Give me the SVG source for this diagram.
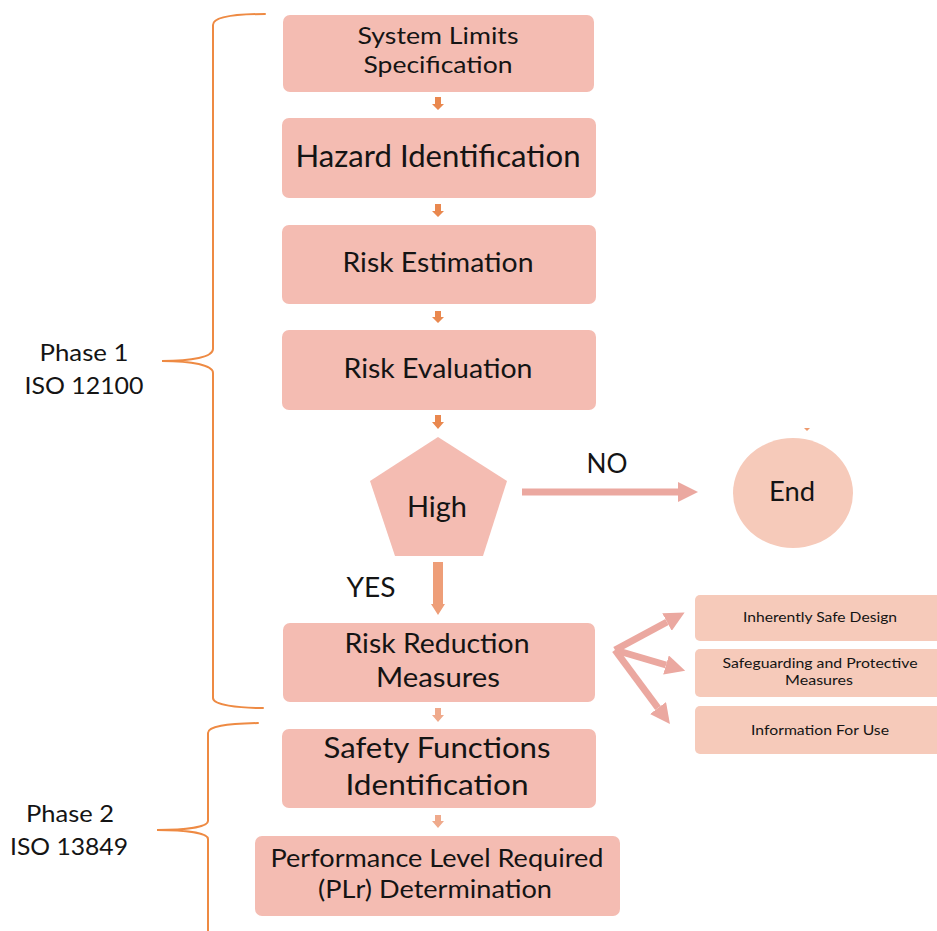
<svg xmlns="http://www.w3.org/2000/svg" width="937" height="931" viewBox="0 0 937 931">
  <style>
    .box { fill: #F4BCB2; }
    .side { fill: #F6CABA; }
    .t { font-family: Lato, "Open Sans", "Liberation Sans", sans-serif; fill: #141414; text-anchor: middle; }
    .brace { fill: none; stroke: #EE8A43; stroke-width: 2; stroke-linecap: round; }
    .step { fill: #E9884F; }
    .step2 { fill: #EFAA8C; }
    .pink { stroke: #EBA8A0; stroke-width: 7; fill: none; }
    .pinkhead { fill: #EBA8A0; }
  </style>
  <defs>
    <marker id="ph" markerUnits="userSpaceOnUse" markerWidth="20" markerHeight="20" refX="0" refY="10" orient="auto" viewBox="0 0 20 20">
      <path d="M0,0 L20,10 L0,20 z" class="pinkhead"/>
    </marker>
  </defs>

  <!-- phase braces and labels -->
  <g id="phase1">
    <path class="brace" d="M265,14 C232,14 213,17 213,25 L213,349 C213,357 192,361 162,361 C192,361 213,365 213,373 L213,698 C213,705 238,708 263,708"/>
    <text class="t" x="84" y="361" font-size="24" textLength="89" lengthAdjust="spacingAndGlyphs">Phase 1</text>
    <text class="t" x="84" y="394" font-size="24" textLength="119" lengthAdjust="spacingAndGlyphs">ISO 12100</text>
  </g>
  <g id="phase2">
    <path class="brace" d="M258,723 C226,724 208,726 208,733 L208,821 C208,827 186,830 157,830 C186,830 208,833 208,839 L208,935"/>
    <text class="t" x="70" y="822" font-size="24" textLength="88" lengthAdjust="spacingAndGlyphs">Phase 2</text>
    <text class="t" x="69" y="855" font-size="24" textLength="118" lengthAdjust="spacingAndGlyphs">ISO 13849</text>
  </g>

  <!-- process steps -->
  <g id="system-limits">
    <rect class="box" x="283" y="15" width="311" height="77" rx="7"/>
    <text class="t" x="438" y="44" font-size="23" textLength="161" lengthAdjust="spacingAndGlyphs">System Limits</text>
    <text class="t" x="438" y="73" font-size="23" textLength="149" lengthAdjust="spacingAndGlyphs">Specification</text>
  </g>
  <g id="hazard-identification">
    <rect class="box" x="282" y="118" width="314" height="80" rx="7"/>
    <text class="t" x="438" y="167" font-size="30" textLength="285" lengthAdjust="spacingAndGlyphs">Hazard Identification</text>
  </g>
  <g id="risk-estimation">
    <rect class="box" x="282" y="225" width="314" height="79" rx="7"/>
    <text class="t" x="438" y="272" font-size="27" textLength="191" lengthAdjust="spacingAndGlyphs">Risk Estimation</text>
  </g>
  <g id="risk-evaluation">
    <rect class="box" x="282" y="330" width="314" height="80" rx="7"/>
    <text class="t" x="438" y="378" font-size="27" textLength="189" lengthAdjust="spacingAndGlyphs">Risk Evaluation</text>
  </g>
  <g id="high">
    <polygon class="box" points="438,437 507,481 483,556 395,556 370,481"/>
    <text class="t" x="437" y="517" font-size="28" textLength="60" lengthAdjust="spacingAndGlyphs">High</text>
  </g>
  <g id="end">
    <ellipse class="side" cx="793" cy="493" rx="60" ry="55"/>
    <path d="M804,428 L810,428 L807,431 z" fill="#EE9A6E"/>
    <text class="t" x="792" y="501" font-size="26" textLength="46" lengthAdjust="spacingAndGlyphs">End</text>
  </g>
  <g id="risk-reduction">
    <rect class="box" x="283" y="623" width="312" height="79" rx="7"/>
    <text class="t" x="437" y="653" font-size="26" textLength="185" lengthAdjust="spacingAndGlyphs">Risk Reduction</text>
    <text class="t" x="438" y="687" font-size="26" textLength="124" lengthAdjust="spacingAndGlyphs">Measures</text>
  </g>
  <g id="inherently-safe">
    <rect class="side" x="695" y="595" width="250" height="46" rx="5"/>
    <text class="t" x="820" y="622" font-size="14" textLength="154" lengthAdjust="spacingAndGlyphs">Inherently Safe Design</text>
  </g>
  <g id="safeguarding">
    <rect class="side" x="695" y="649" width="250" height="48" rx="5"/>
    <text class="t" x="820" y="668" font-size="13.5" textLength="195" lengthAdjust="spacingAndGlyphs">Safeguarding and Protective</text>
    <text class="t" x="819" y="685" font-size="13.5" textLength="68" lengthAdjust="spacingAndGlyphs">Measures</text>
  </g>
  <g id="information-for-use">
    <rect class="side" x="695" y="706" width="250" height="48" rx="5"/>
    <text class="t" x="820" y="735" font-size="14" textLength="138" lengthAdjust="spacingAndGlyphs">Information For Use</text>
  </g>
  <g id="safety-functions">
    <rect class="box" x="282" y="729" width="314" height="79" rx="7"/>
    <text class="t" x="437" y="758" font-size="28" textLength="227" lengthAdjust="spacingAndGlyphs">Safety Functions</text>
    <text class="t" x="437" y="795" font-size="28" textLength="183" lengthAdjust="spacingAndGlyphs">Identification</text>
  </g>
  <g id="performance-level">
    <rect class="box" x="255" y="836" width="365" height="80" rx="7"/>
    <text class="t" x="437" y="867" font-size="25" textLength="333" lengthAdjust="spacingAndGlyphs">Performance Level Required</text>
    <text class="t" x="435" y="898" font-size="25" textLength="234" lengthAdjust="spacingAndGlyphs">(PLr) Determination</text>
  </g>

  <!-- connectors -->
  <g id="connectors">
    <polygon class="step" points="435,97 441,97 441,104 444,104 438,110 432,104 435,104"/>
    <polygon class="step" points="435,204 441,204 441,211 444,211 438,217 432,211 435,211"/>
    <polygon class="step" points="435,311 441,311 441,317 444,317 438,323 432,317 435,317"/>
    <polygon class="step" points="435,415 441,415 441,422 444,422 438,429 432,422 435,422"/>
    <polygon class="step2" points="435,708 441,708 441,715 444,715 438,722 432,715 435,715"/>
    <polygon class="step2" points="435,815 441,815 441,821 444,821 438,828 432,821 435,821"/>
    <!-- YES branch -->
    <polygon fill="#EE9E78" points="433,562 443,562 443,604 445,604 438,615 431,604 433,604"/>
    <text class="t" x="371" y="597" font-size="26" textLength="49" lengthAdjust="spacingAndGlyphs">YES</text>
    <!-- NO branch -->
    <line class="pink" x1="522" y1="492" x2="678" y2="492" marker-end="url(#ph)"/>
    <text class="t" x="607" y="473" font-size="26" textLength="41" lengthAdjust="spacingAndGlyphs">NO</text>
    <!-- risk reduction options -->
    <line class="pink" x1="615" y1="650" x2="667" y2="622" marker-end="url(#ph)"/>
    <line class="pink" x1="615" y1="650" x2="666" y2="665" marker-end="url(#ph)"/>
    <line class="pink" x1="615" y1="650" x2="658" y2="708" marker-end="url(#ph)"/>
  </g>
</svg>
